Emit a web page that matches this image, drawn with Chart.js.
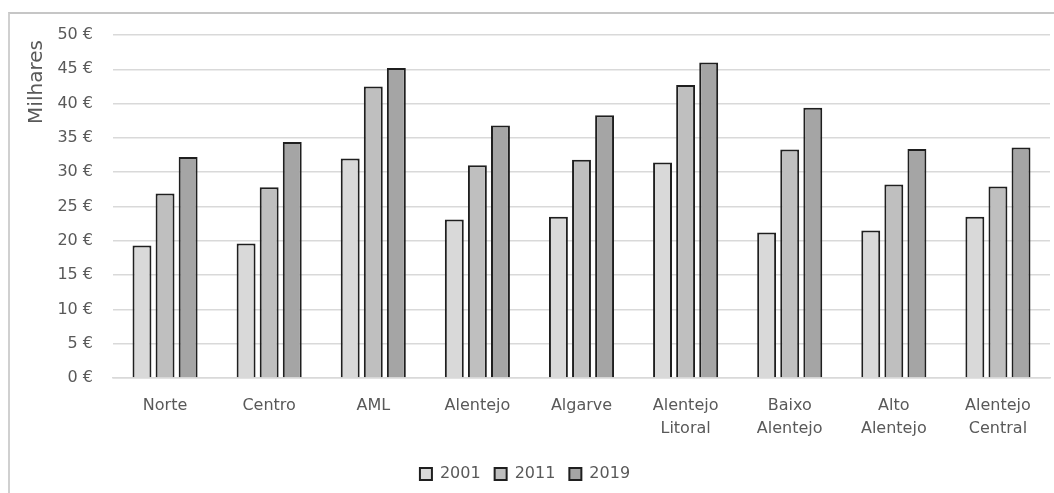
<!DOCTYPE html>
<html>
<head>
<meta charset="utf-8">
<script src="https://cdn.jsdelivr.net/npm/chart.js@4/dist/chart.umd.min.js"></script>
<style>
  html, body { margin: 0; padding: 0; background: #ffffff; }
  #wrap { position: relative; width: 1054px; height: 493px; overflow: hidden; }
  #frame { position: absolute; left: 8px; top: 12px; width: 1100px; height: 600px;
           border-top: 2px solid #c6c6c6; border-left: 2px solid #d0d0d0; box-sizing: border-box; }
  #c { position: absolute; left: 0; top: 0; }
</style>
</head>
<body>
<div id="wrap">
  <div id="frame"></div>
  <canvas id="c" width="1054" height="493"></canvas>
</div>
<script>
// Regions (multi-line labels as arrays)
const regions = [
  'Norte', 'Centro', 'AML', 'Alentejo', 'Algarve',
  ['Alentejo', 'Litoral'], ['Baixo', 'Alentejo'], ['Alto', 'Alentejo'], ['Alentejo', 'Central']
];
const years = ['2001', '2011', '2019'];
const unitLabel = 'Milhares';

// Values in thousands of euros
const v2001 = [19.3, 19.6, 32.0, 23.1, 23.5, 31.4, 21.2, 21.5, 23.5];
const v2011 = [26.9, 27.8, 42.5, 31.0, 31.8, 42.7, 33.3, 28.2, 27.9];
const v2019 = [32.2, 34.4, 45.2, 36.8, 38.3, 46.0, 39.4, 33.4, 33.6];

const fills = ['#d9d9d9', '#bfbfbf', '#a5a5a5'];
const textColor = '#595959';
const fontFamily = '"DejaVu Sans", sans-serif';

const series = [v2001, v2011, v2019];

// Display-unit label drawn near the top of the value axis
const unitLabelPlugin = {
  id: 'unitLabel',
  afterDraw(chart) {
    const { ctx, chartArea } = chart;
    ctx.save();
    ctx.translate(37, chartArea.top + 47);
    ctx.rotate(-Math.PI / 2);
    ctx.fillStyle = textColor;
    ctx.font = '20px ' + fontFamily;
    ctx.textAlign = 'center';
    ctx.textBaseline = 'middle';
    ctx.fillText(unitLabel, 0, 0);
    ctx.restore();
  }
};

new Chart(document.getElementById('c'), {
  type: 'bar',
  data: {
    labels: regions,
    datasets: series.map((vals, i) => ({
      label: years[i],
      data: vals,
      backgroundColor: fills[i],
      borderColor: '#1f1f1f',
      borderWidth: 2,
      categoryPercentage: 0.665,
      barPercentage: 0.82
    }))
  },
  options: {
    responsive: false,
    animation: false,
    layout: { padding: { top: 35, right: 4, left: 0, bottom: 1 } },
    plugins: {
      tooltip: { enabled: false },
      legend: {
        position: 'bottom',
        labels: {
          boxWidth: 12,
          boxHeight: 12,
          padding: 14,
          color: textColor,
          font: { family: fontFamily, size: 16 }
        }
      }
    },
    scales: {
      x: {
        grid: { display: false, drawTicks: false },
        border: { color: '#d9d9d9', width: 1.5 },
        ticks: {
          color: textColor,
          padding: 16,
          maxRotation: 0,
          autoSkip: false,
          font: { family: fontFamily, size: 16, lineHeight: 1.45 }
        },
        afterFit: s => { s.height = 74; }
      },
      y: {
        min: 0,
        max: 50,
        grid: { color: '#d9d9d9', lineWidth: 1.5, drawTicks: false },
        border: { display: false },
        ticks: {
          stepSize: 5,
          padding: 20,
          color: textColor,
          font: { family: fontFamily, size: 16 },
          callback: v => v + ' €'
        },
        afterFit: s => { s.width = 113; }
      }
    }
  },
  plugins: [unitLabelPlugin]
});
</script>
</body>
</html>
